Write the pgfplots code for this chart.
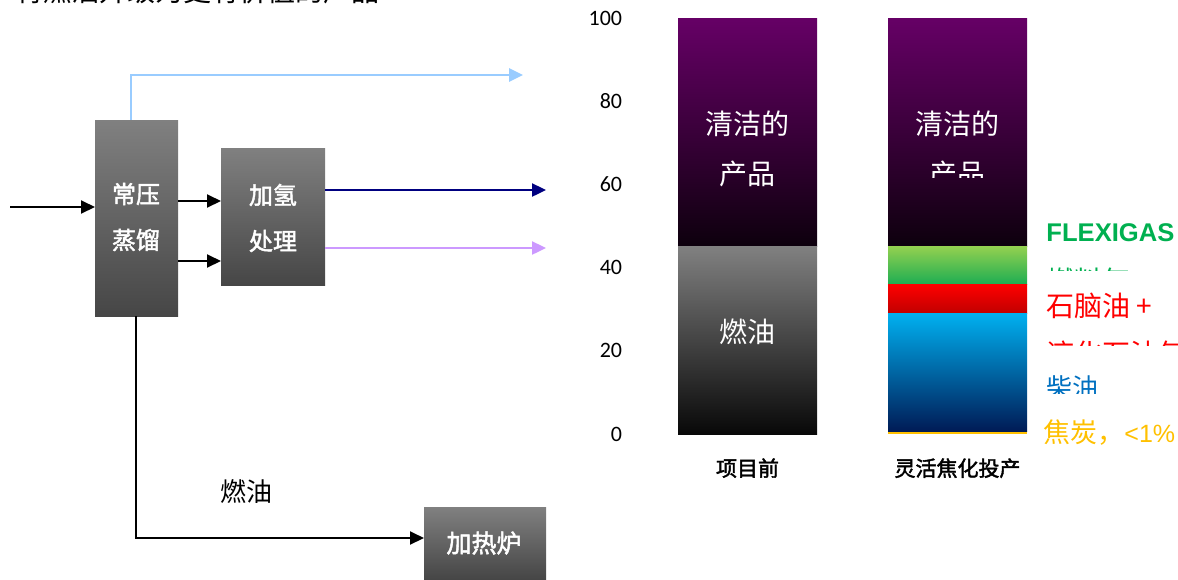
\documentclass[border=0pt]{standalone}
\usepackage{pgfplots}
\pgfplotsset{compat=1.18}
\usetikzlibrary{arrows.meta}
\usepackage{fontspec}
\setmainfont{Carlito}
\newfontfamily\cjk{Noto Sans CJK SC}
\newfontfamily\cjkb[FakeBold=2]{Noto Sans CJK SC}
\newfontfamily\arial{Liberation Sans}
\definecolor{purpTop}{HTML}{660066}
\definecolor{purpBot}{HTML}{0D000D}
\definecolor{grayTop}{HTML}{808080}
\definecolor{grayBot}{HTML}{080808}
\definecolor{greenTop}{HTML}{92D050}
\definecolor{greenBot}{HTML}{1DAD52}
\definecolor{redTop}{HTML}{FF0000}
\definecolor{redBot}{HTML}{C00000}
\definecolor{cyanTop}{HTML}{00B0F0}
\definecolor{navyBot}{HTML}{001A55}
\definecolor{cokeY}{HTML}{FFC000}
\definecolor{flexGreen}{HTML}{00B050}
\definecolor{dieselBlue}{HTML}{0070C0}
\definecolor{boxTop}{HTML}{808080}
\definecolor{boxBot}{HTML}{464646}
\definecolor{lightBlue}{HTML}{99CCFF}
\definecolor{lavender}{HTML}{CC99FF}
\definecolor{navyLine}{HTML}{000080}
\pgfplotsset{barax/.style={
  scale only axis, width=210pt, height=208pt,
  at={(321.25pt,-217pt)}, anchor=south west,
  xmin=-0.5, xmax=1.5, ymin=0, ymax=100,
  axis line style={draw=none}, tick style={draw=none},
  ybar stacked, bar width=69.5pt,
}}
\begin{document}
\begin{tikzpicture}
\begin{scope}[x=0.5pt,y=-0.5pt]
\clip (0,0) rectangle (1178,579);
% title (clipped at top)
\node[anchor=west, inner sep=0pt] at (15,-9) {\cjk\fontsize{14}{16}\selectfont 将燃油升级为更有价值的产品};
% boxes
\shade[top color=boxTop, bottom color=boxBot] (95,120) rectangle (178,316);
\shade[top color=boxTop, bottom color=boxBot] (221,148) rectangle (325,285);
\shade[top color=boxTop, bottom color=boxBot] (424,507) rectangle (546,579);
\node[text=white] at (136,194) {\cjkb\fontsize{12}{14}\selectfont 常压};
\node[text=white] at (136,240) {\cjkb\fontsize{12}{14}\selectfont 蒸馏};
\node[text=white] at (273,195) {\cjkb\fontsize{12}{14}\selectfont 加氢};
\node[text=white] at (273,241) {\cjkb\fontsize{12}{14}\selectfont 处理};
\node[text=white] at (484,543) {\cjkb\fontsize{12.5}{14}\selectfont 加热炉};
% arrows
\draw[line width=1pt, -{Triangle[length=7pt,width=6.5pt]}] (10,207) -- (95,207);
\draw[line width=1pt, -{Triangle[length=7pt,width=6.5pt]}] (178,201) -- (221,201);
\draw[line width=1pt, -{Triangle[length=7pt,width=6.5pt]}] (178,261) -- (221,261);
\draw[navyLine, line width=1.2pt, -{Triangle[length=7pt,width=6.5pt]}] (325,190) -- (546,190);
\draw[lavender, line width=1.2pt, -{Triangle[length=7pt,width=6.5pt]}] (325,248) -- (546,248);
\draw[lightBlue, line width=1.4pt, -{Triangle[length=7pt,width=6.5pt]}] (131,120) -- (131,75) -- (523,75);
\draw[line width=1pt, -{Triangle[length=7pt,width=6.5pt]}] (136,316) -- (136,538) -- (424,538);
\node at (246.5,492) {\cjk\fontsize{13}{15}\selectfont 燃油};
\end{scope}

\begin{axis}[barax,
  ytick={0,20,40,60,80,100},
  xtick={0,1}, xticklabels={{\cjkb 项目前},{\cjkb 灵活焦化投产}},
  /pgf/number format/assume math mode=true,
  yticklabel style={font=\fontsize{11}{12}\selectfont, inner sep=0pt, xshift=-10pt},
  xticklabel style={font=\fontsize{10.5}{12}\selectfont, inner sep=0pt, yshift=-12pt},
]
\addplot[draw=none, top color=grayTop, bottom color=grayBot] coordinates {(0,45)};
\addplot[draw=none, top color=purpTop, bottom color=purpBot] coordinates {(0,55)};
\end{axis}

\begin{axis}[barax, xtick=\empty, ytick=\empty]
\addplot[draw=none, fill=cokeY] coordinates {(1,0.5)};
\addplot[draw=none, top color=cyanTop, bottom color=navyBot] coordinates {(1,28.5)};
\addplot[draw=none, top color=redTop, bottom color=redBot] coordinates {(1,7)};
\addplot[draw=none, top color=greenTop, bottom color=greenBot] coordinates {(1,9)};
\addplot[draw=none, top color=purpTop, bottom color=purpBot] coordinates {(1,55)};
\end{axis}

\begin{scope}[x=0.5pt,y=-0.5pt]
\node[text=white] at (747.5,124) {\cjk\fontsize{14}{16}\selectfont 清洁的};
\node[text=white] at (747.5,173.5) {\cjk\fontsize{14}{16}\selectfont 产品};
\node[text=white] at (747.5,331.5) {\cjk\fontsize{14}{16}\selectfont 燃油};
\node[text=white] at (957.5,124) {\cjk\fontsize{14}{16}\selectfont 清洁的};
\begin{scope}
\clip (890,140) rectangle (1025,177);
\node[text=white] at (957.5,173.5) {\cjk\fontsize{14}{16}\selectfont 产品};
\end{scope}
\begin{scope}
\clip (1030,205) rectangle (1178,270);
\node[anchor=west, inner sep=0pt, text=flexGreen] at (1046,233) {\arial\bfseries\fontsize{12.8}{15}\selectfont FLEXIGAS};
\node[anchor=west, inner sep=0pt, text=flexGreen] at (1046,281) {\cjk\fontsize{14}{16}\selectfont 燃料气};
\end{scope}
\begin{scope}
\clip (1030,285) rectangle (1178,345);
\node[anchor=west, inner sep=0pt, text=redTop] at (1046,306) {\cjk\fontsize{14}{16}\selectfont 石脑油 +};
\node[anchor=west, inner sep=0pt, text=redTop] at (1046,354) {\cjk\fontsize{14}{16}\selectfont 液化石油气};
\end{scope}
\begin{scope}
\clip (1030,360) rectangle (1178,393);
\node[anchor=west, inner sep=0pt, text=dieselBlue] at (1046,388) {\cjk\fontsize{13}{15}\selectfont 柴油};
\end{scope}
\begin{scope}
\clip (1030,410) rectangle (1178,460);
\node[anchor=west, inner sep=0pt, text=cokeY] at (1043,433) {\cjk\fontsize{13.5}{16}\selectfont 焦炭，\arial\fontsize{12.5}{14}\selectfont<1\%};
\end{scope}
\end{scope}
\pgfresetboundingbox
\useasboundingbox (0,0) rectangle (589pt,-289.5pt);
\end{tikzpicture}
\end{document}
